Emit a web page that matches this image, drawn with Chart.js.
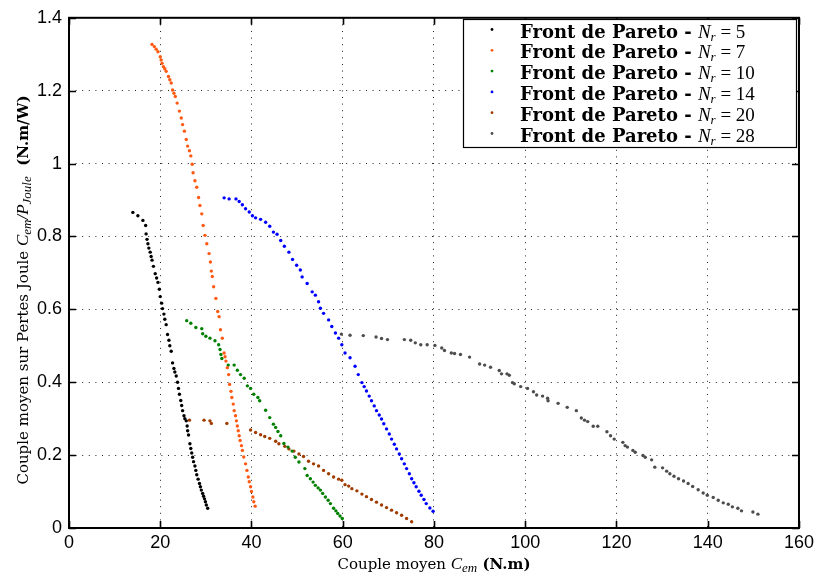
<!DOCTYPE html>
<html>
<head>
<meta charset="utf-8">
<script src="https://cdn.jsdelivr.net/npm/chart.js@4.4.0/dist/chart.umd.min.js"></script>
<style>body{margin:0;background:#fff}</style>
</head>
<body>
<canvas id="myChart" width="818" height="577"></canvas>
<script>
// Front de Pareto: [couple moyen, couple/pertes joule]
var nrValues = ['5', '7', '10', '14', '20', '28'];
var nrColors = ['#000000', '#ff5a14', '#008000', '#0000ff', '#a03c00', '#4d4d4d'];

var paretoN5 = [[14.0,0.866],[15.1,0.857],[16.2,0.844],[16.8,0.830],[16.9,0.807],[17.1,0.792],[17.3,0.780],[17.5,0.768],[17.8,0.757],[18.0,0.745],[18.2,0.735],[18.5,0.718],[18.9,0.698],[19.2,0.686],[19.5,0.674],[19.8,0.655],[20.0,0.635],[20.3,0.617],[20.5,0.602],[20.8,0.587],[21.0,0.573],[21.3,0.558],[21.6,0.531],[21.9,0.515],[22.1,0.500],[22.4,0.485],[22.7,0.453],[23.0,0.438],[23.2,0.428],[23.5,0.417],[23.8,0.400],[24.0,0.383],[24.2,0.367],[24.5,0.350],[24.7,0.336],[24.9,0.322],[25.2,0.308],[25.4,0.300],[25.7,0.294],[25.9,0.280],[26.0,0.267],[26.2,0.255],[26.5,0.231],[26.7,0.218],[26.9,0.206],[27.1,0.194],[27.3,0.182],[27.6,0.170],[27.8,0.158],[28.0,0.146],[28.3,0.134],[28.6,0.122],[28.8,0.113],[29.0,0.104],[29.3,0.095],[29.5,0.087],[29.7,0.080],[29.9,0.072],[30.1,0.063],[30.4,0.054]];

var paretoN7 = [[18.2,1.327],[18.7,1.321],[19.1,1.314],[19.5,1.307],[20.0,1.293],[20.2,1.284],[20.4,1.275],[20.7,1.266],[21.0,1.260],[21.3,1.253],[21.8,1.239],[22.1,1.230],[22.4,1.221],[22.7,1.202],[23.0,1.193],[23.3,1.184],[23.7,1.166],[24.2,1.144],[24.6,1.125],[24.9,1.107],[25.3,1.089],[25.7,1.066],[26.0,1.048],[26.4,1.035],[26.7,1.021],[27.0,0.998],[27.2,0.975],[27.6,0.953],[28.0,0.935],[28.4,0.907],[28.7,0.885],[29.1,0.862],[29.4,0.830],[29.8,0.803],[30.2,0.780],[30.7,0.753],[31.0,0.730],[31.2,0.705],[31.4,0.690],[31.7,0.662],[32.2,0.630],[32.6,0.594],[32.9,0.580],[33.2,0.544],[33.6,0.521],[34.0,0.480],[34.2,0.470],[34.4,0.458],[34.7,0.440],[35.0,0.421],[35.2,0.394],[35.5,0.375],[35.7,0.358],[36.0,0.340],[36.2,0.322],[36.5,0.308],[36.7,0.294],[36.9,0.280],[37.1,0.267],[37.3,0.253],[37.5,0.240],[37.8,0.226],[38.0,0.213],[38.3,0.195],[38.7,0.176],[39.0,0.158],[39.3,0.140],[39.5,0.127],[39.8,0.113],[40.0,0.100],[40.3,0.085],[40.5,0.072],[40.8,0.060]];

var paretoN10 = [[25.8,0.569],[26.7,0.562],[27.8,0.550],[29.1,0.547],[29.3,0.533],[30.0,0.526],[30.9,0.521],[32.0,0.514],[32.8,0.503],[33.1,0.490],[33.3,0.476],[33.5,0.465],[34.9,0.447],[36.2,0.447],[36.9,0.433],[37.6,0.421],[38.4,0.411],[39.1,0.390],[39.8,0.383],[40.5,0.367],[41.4,0.358],[41.8,0.349],[43.1,0.323],[44.0,0.303],[44.8,0.285],[45.3,0.276],[45.8,0.265],[46.4,0.253],[47.1,0.232],[48.0,0.222],[48.9,0.211],[49.6,0.194],[50.4,0.181],[51.7,0.163],[52.2,0.144],[52.9,0.135],[53.5,0.126],[54.0,0.117],[54.6,0.110],[55.1,0.104],[55.6,0.095],[56.2,0.085],[56.8,0.076],[57.3,0.067],[58.0,0.054],[58.5,0.047],[58.9,0.040],[59.4,0.033],[59.9,0.026]];

var paretoN14 = [[34.0,0.906],[35.1,0.903],[36.6,0.903],[37.3,0.896],[38.0,0.887],[38.7,0.876],[39.5,0.867],[40.2,0.857],[40.9,0.851],[42.0,0.847],[43.1,0.839],[44.0,0.828],[44.8,0.812],[45.6,0.806],[46.4,0.789],[47.2,0.773],[48.2,0.757],[49.0,0.737],[49.9,0.721],[50.7,0.708],[51.1,0.689],[52.2,0.671],[53.3,0.648],[54.0,0.639],[54.7,0.621],[55.1,0.603],[55.8,0.589],[56.9,0.571],[57.6,0.553],[58.4,0.535],[59.1,0.521],[59.8,0.503],[60.5,0.480],[61.6,0.467],[62.7,0.444],[63.4,0.421],[64.2,0.399],[64.7,0.388],[65.2,0.376],[65.8,0.362],[66.3,0.349],[66.9,0.335],[67.4,0.322],[68.0,0.310],[68.5,0.299],[69.0,0.286],[69.6,0.272],[70.2,0.258],[70.7,0.244],[71.3,0.230],[71.8,0.217],[72.4,0.203],[72.9,0.190],[73.5,0.176],[74.0,0.163],[74.6,0.149],[75.1,0.135],[75.6,0.124],[76.1,0.113],[76.7,0.101],[77.2,0.090],[77.8,0.078],[78.3,0.067],[79.1,0.055],[79.8,0.046]];

var paretoN20 = [[26.4,0.296],[29.6,0.296],[30.9,0.294],[31.2,0.287],[34.6,0.287],[39.8,0.269],[40.9,0.262],[42.0,0.256],[42.9,0.251],[44.0,0.246],[45.3,0.238],[46.0,0.231],[47.3,0.224],[48.2,0.217],[49.3,0.211],[50.4,0.203],[51.4,0.196],[52.5,0.183],[53.6,0.176],[54.7,0.170],[55.8,0.158],[56.9,0.149],[58.0,0.140],[59.1,0.134],[59.8,0.131],[60.5,0.119],[61.3,0.115],[62.0,0.108],[63.1,0.102],[64.2,0.093],[65.2,0.086],[66.3,0.078],[67.4,0.071],[68.5,0.063],[69.6,0.056],[70.7,0.049],[71.8,0.042],[72.9,0.035],[74.0,0.026],[75.1,0.017]];

var paretoN28 = [[59.7,0.532],[61.6,0.529],[64.5,0.528],[67.3,0.524],[68.5,0.520],[69.8,0.517],[73.5,0.517],[74.9,0.515],[75.9,0.508],[77.1,0.503],[78.5,0.503],[80.2,0.501],[81.7,0.494],[82.3,0.487],[83.8,0.480],[84.5,0.479],[85.8,0.476],[87.8,0.469],[90.0,0.450],[91.1,0.447],[92.4,0.441],[94.3,0.432],[94.8,0.423],[96.0,0.423],[96.5,0.419],[97.2,0.399],[97.6,0.396],[99.0,0.388],[100.5,0.383],[101.8,0.374],[102.5,0.365],[103.8,0.362],[104.9,0.356],[105.0,0.349],[107.2,0.342],[109.2,0.331],[111.2,0.322],[112.3,0.302],[113.0,0.296],[113.7,0.292],[114.9,0.279],[115.9,0.279],[117.9,0.264],[118.7,0.253],[119.5,0.244],[121.4,0.235],[121.9,0.226],[122.4,0.222],[123.6,0.213],[124.1,0.208],[125.8,0.199],[126.3,0.194],[127.7,0.187],[128.4,0.167],[130.1,0.165],[131.0,0.156],[131.7,0.149],[132.6,0.142],[133.6,0.135],[134.7,0.129],[135.7,0.122],[136.7,0.114],[137.9,0.105],[139.0,0.096],[139.9,0.090],[141.2,0.084],[142.3,0.076],[143.4,0.069],[144.5,0.065],[145.4,0.058],[146.6,0.054],[147.4,0.047],[149.9,0.044],[151.0,0.038]];

var paretoSets = [paretoN5, paretoN7, paretoN10, paretoN14, paretoN20, paretoN28];

var serif = '"DejaVu Serif", serif';
var mathSerif = '"Liberation Serif", serif';

// dessine un texte avec plusieurs polices (indices, italiques)
function richText(ctx, parts, x, y, align){
	var w = 0;
	parts.forEach(function(p){ ctx.font = p.font; p.w = ctx.measureText(p.t).width; w += p.w; });
	var cx = align == 'center' ? x - w/2 : x;
	ctx.textAlign = 'left';
	ctx.textBaseline = 'alphabetic';
	parts.forEach(function(p){
		ctx.font = p.font;
		ctx.fillText(p.t, cx, y + (p.dy || 0));
		cx += p.w;
	});
}

var framePlugin = {
	id: 'frame',
	afterDraw: function(chart){
		var ctx = chart.ctx, a = chart.chartArea;
		var sx = chart.scales.x, sy = chart.scales.y;
		ctx.save();
		ctx.strokeStyle = '#000';
		ctx.fillStyle = '#000';
		ctx.lineWidth = 1.6;
		ctx.beginPath();
		sx.ticks.forEach(function(t){
			var p = Math.round(sx.getPixelForValue(t.value)) + 0.5;
			ctx.moveTo(p, a.bottom); ctx.lineTo(p, a.bottom - 7);
			ctx.moveTo(p, a.top); ctx.lineTo(p, a.top + 7);
		});
		sy.ticks.forEach(function(t){
			var p = Math.round(sy.getPixelForValue(t.value)) + 0.5;
			ctx.moveTo(a.left, p); ctx.lineTo(a.left + 7, p);
			ctx.moveTo(a.right, p); ctx.lineTo(a.right - 7, p);
		});
		ctx.stroke();
		ctx.lineWidth = 2;
		ctx.strokeRect(a.left, a.top, a.right - a.left, a.bottom - a.top);

		// titre de l'axe x
		richText(ctx, [
			{t: 'Couple moyen ', font: '15px ' + serif},
			{t: 'C', font: 'italic 17px ' + mathSerif},
			{t: 'em', font: 'italic 13px ' + mathSerif, dy: 3},
			{t: ' (N.m)', font: 'bold 15px ' + serif}
		], 434, 569, 'center');

		// titre de l'axe y
		ctx.save();
		ctx.translate(28, 290);
		ctx.rotate(-Math.PI/2);
		richText(ctx, [
			{t: 'Couple moyen sur Pertes Joule ', font: '15px ' + serif},
			{t: 'C', font: 'italic 17px ' + mathSerif},
			{t: 'em', font: 'italic 13px ' + mathSerif, dy: 3},
			{t: '/', font: 'italic 17px ' + mathSerif},
			{t: 'P', font: 'italic 17px ' + mathSerif},
			{t: 'Joule', font: 'italic 13px ' + mathSerif, dy: 3},
			{t: '  (N.m/W)', font: 'bold 15px ' + serif}
		], 0, 0, 'center');
		ctx.restore();

		// légende
		ctx.fillStyle = '#fff';
		ctx.fillRect(463, 19, 333, 128);
		ctx.lineWidth = 1.2;
		ctx.strokeRect(463.5, 19.5, 333, 128);
		nrValues.forEach(function(n, i){
			var y = 29.5 + i*20.8;
			ctx.fillStyle = nrColors[i];
			ctx.beginPath();
			ctx.arc(492, y, 1.4, 0, 2*Math.PI);
			ctx.fill();
			ctx.fillStyle = '#000';
			richText(ctx, [
				{t: 'Front de Pareto - ', font: 'bold 18px ' + serif},
				{t: 'N', font: 'italic 19px ' + mathSerif},
				{t: 'r', font: 'italic 13px ' + mathSerif, dy: 3},
				{t: ' = ' + n, font: '19px ' + mathSerif}
			], 520, y + 8, 'left');
		});
		ctx.restore();
	}
};

function showchart(){
	var ctx = document.getElementById('myChart');
	var datasets = paretoSets.map(function(set, i){
		return {
			label: 'Front de Pareto - Nr = ' + nrValues[i],
			data: set.map(function(p){ return {x: p[0], y: p[1]}; }),
			backgroundColor: nrColors[i],
			borderColor: nrColors[i],
			pointRadius: 1.7,
			pointBorderWidth: 0,
			showLine: false
		};
	});
	new Chart(ctx, {
		type: 'scatter',
		data: {datasets: datasets},
		plugins: [framePlugin],
		options: {
			responsive: false,
			animation: false,
			layout: {padding: {top: 14, right: 15, left: 0, bottom: 0}},
			plugins: {legend: {display: false}, tooltip: {enabled: false}},
			scales: {
				x: {
					type: 'linear', min: 0, max: 160,
					afterFit: function(s){ s.height = 49; },
					ticks: {stepSize: 20, color: '#000', padding: 4, font: {family: '"Liberation Sans", sans-serif', size: 18}},
					grid: {color: '#222', drawTicks: false},
					border: {display: false, dash: [1, 5.6]}
				},
				y: {
					type: 'linear', min: 0, max: 1.4,
					afterFit: function(s){ s.width = 69; },
					ticks: {
						stepSize: 0.2, color: '#000', padding: 7,
						font: {family: '"Liberation Sans", sans-serif', size: 18},
						callback: function(v){ return String(+v.toFixed(1)); }
					},
					grid: {color: '#222', drawTicks: false},
					border: {display: false, dash: [1, 5.6]}
				}
			}
		}
	});
}

showchart();
</script>
</body>
</html>
